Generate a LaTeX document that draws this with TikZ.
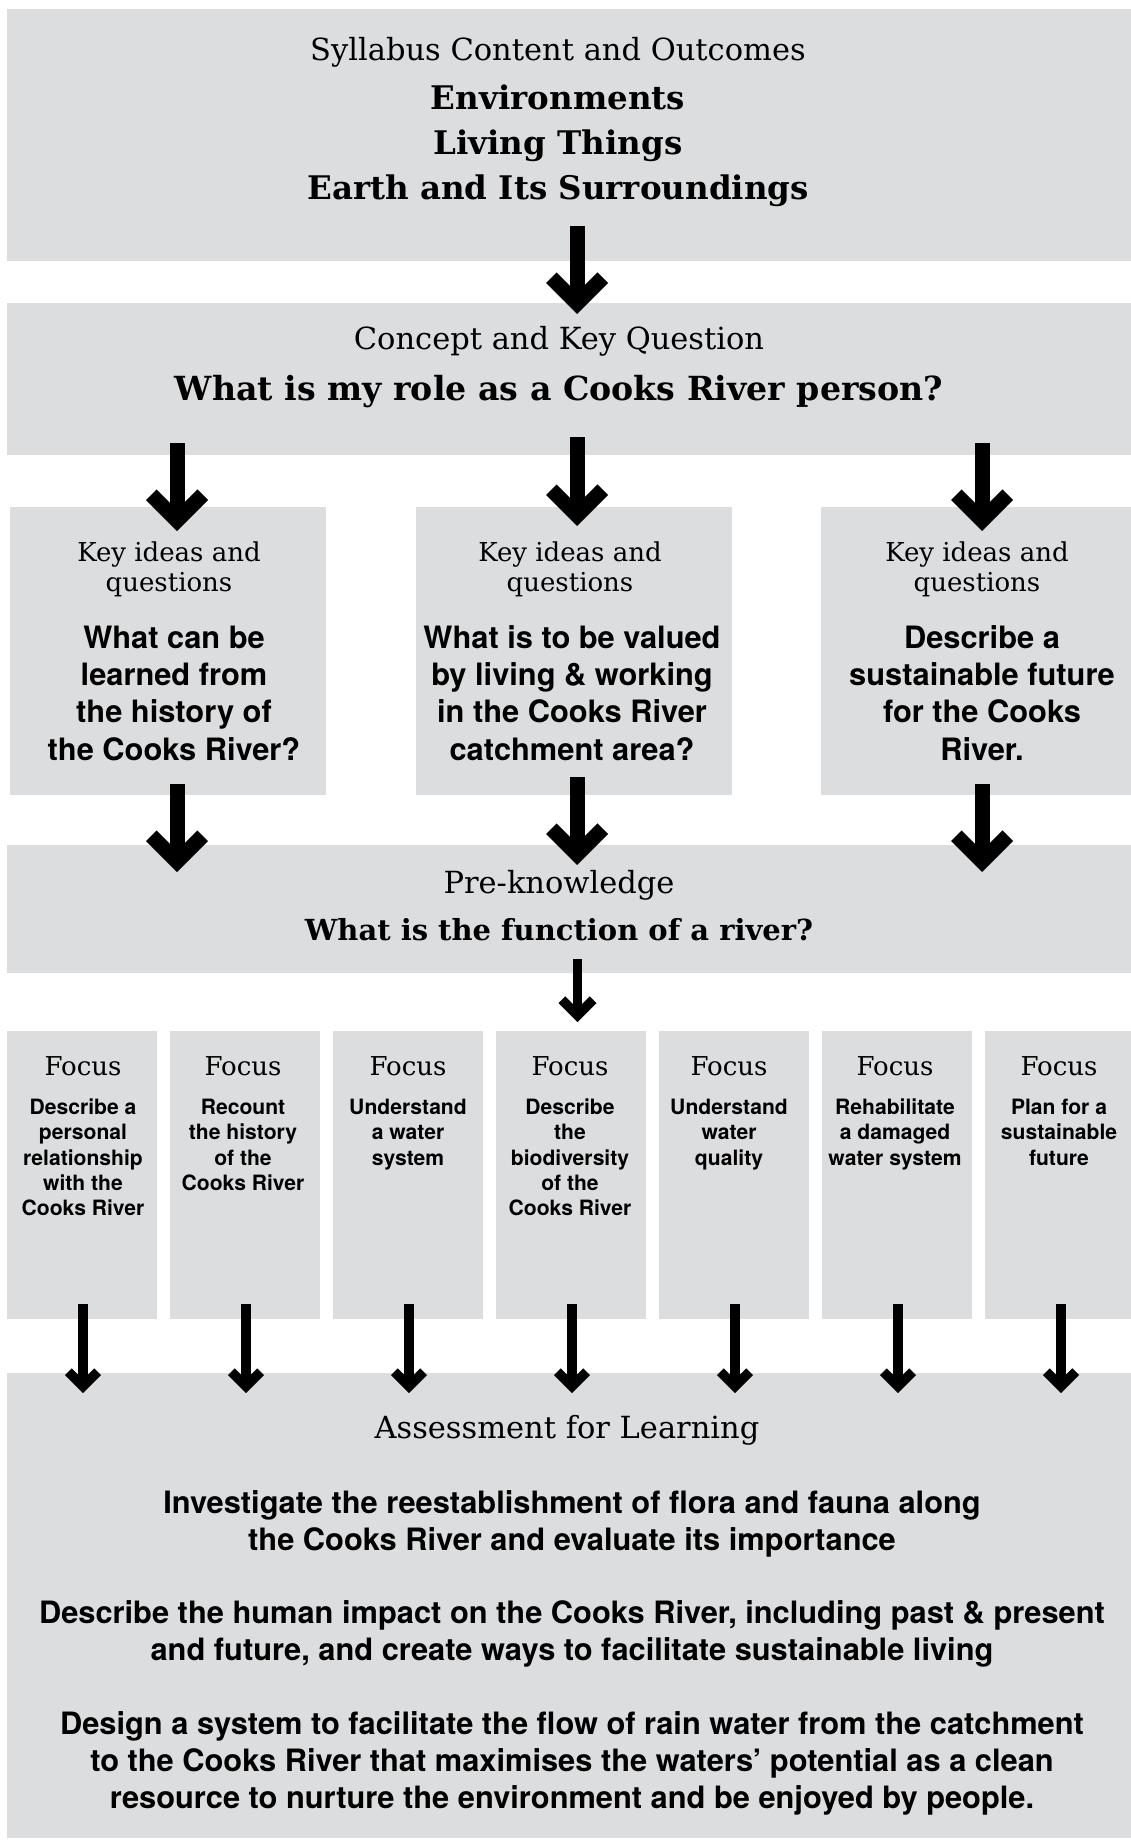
\documentclass[tikz,border=0pt]{standalone}
\usepackage{fontspec}
\setmainfont{DejaVu Serif}
\newfontfamily\hv{TeX Gyre Heros}
\usetikzlibrary{calc}
\definecolor{boxgray}{RGB}{220,221,223}
% chevron arrow head at coordinate #1, half-width #2, stroke thickness #3
\newcommand\chev[3]{\fill (#1) -- ++(-#2,-#2) -- ++({#3*0.7071},{-#3*0.7071}) -- ++({#2-#3*0.7071},{#2-#3*0.7071}) -- ++({#2-#3*0.7071},{#3*0.7071-#2}) -- ++({#3*0.7071},{#3*0.7071}) -- cycle;}
\tikzset{
  box/.style={fill=boxgray, draw=none, inner sep=0pt, outer sep=0pt, anchor=north west},
  serif/.style={font=\fontsize{30.5}{36}\selectfont, anchor=base, inner sep=0pt},
  serifb/.style={font=\fontsize{32.5}{36}\selectfont\bfseries, anchor=base, inner sep=0pt},
  serifs/.style={font=\fontsize{26}{30}\selectfont, anchor=base, inner sep=0pt},
  sansb/.style={font=\hv\bfseries\fontsize{30.8}{37}\selectfont, anchor=base, inner sep=0pt},
  sanss/.style={font=\hv\bfseries\fontsize{21.1}{25}\selectfont, anchor=base, inner sep=0pt},
  bigshaft/.style={line width=15pt, shorten >=10pt},
  smallshaft/.style={line width=9.5pt, shorten >=6pt},
}
\begin{document}
\begin{tikzpicture}[x=1pt,y=-1pt]
\useasboundingbox (0,0) rectangle (1131,1843);
\fill[white] (0,0) rectangle (1131,1843);
% boxes
\node[box, minimum width=1124pt, minimum height=252pt] (top) at (7,9) {};
\node[box, minimum width=1124pt, minimum height=152pt] (concept) at (7,303) {};
\node[box, minimum width=316pt, minimum height=288pt] (k1) at (10,507) {};
\node[box, minimum width=316pt, minimum height=288pt] (k2) at (416,507) {};
\node[box, minimum width=310pt, minimum height=288pt] (k3) at (821,507) {};
\node[box, minimum width=1124pt, minimum height=128pt] (pre) at (7,845) {};
\foreach \i in {1,...,7}{
  \node[box, minimum width=150pt, minimum height=288pt] (f\i) at ({7+163*(\i-1)},1031) {};
}
\node[box, minimum width=1124pt, minimum height=465pt] (assess) at (7,1373) {};

% top texts
\node[serif] (t1) at (558,61) {Syllabus Content and Outcomes};
\node[serifb] (t2) at (558,110) {Environments};
\node[serifb] (t3) at (558,155) {Living Things};
\node[serifb] (t4) at (558,200) {Earth and Its Surroundings};
\node[serif] (c1) at (559,349) {Concept and Key Question};
\node[serifb, font=\fontsize{33.2}{36}\selectfont\bfseries] (c2) at (559,400) {What is my role as a Cooks River person?};

% key ideas
\node[serifs] (k1a) at (169,561) {Key ideas and};
\node[serifs] (k1b) at (169,591) {questions};
\node[serifs] (k2a) at (570,561) {Key ideas and};
\node[serifs] (k2b) at (570,591) {questions};
\node[serifs] (k3a) at (977,561) {Key ideas and};
\node[serifs] (k3b) at (977,591) {questions};

\node[sansb] (q1a) at (174,648) {What can be};
\node[sansb] (q1b) at (174,685.3) {learned from};
\node[sansb] (q1c) at (174,722.6) {the history of};
\node[sansb] (q1d) at (174,760) {the Cooks River?};
\node[sansb] (q2a) at (572,648) {What is to be valued};
\node[sansb] (q2b) at (572,685.3) {by living \& working};
\node[sansb] (q2c) at (572,722.6) {in the Cooks River};
\node[sansb] (q2d) at (572,760) {catchment area?};
\node[sansb] (q3a) at (982,648) {Describe a};
\node[sansb] (q3b) at (982,685.3) {sustainable future};
\node[sansb] (q3c) at (982,722.6) {for the Cooks};
\node[sansb] (q3d) at (982,760) {River.};

% pre-knowledge
\node[serif] (p1) at (559,893) {Pre-knowledge};
\node[serifb, font=\fontsize{29}{34}\selectfont\bfseries] (p2) at (559,940) {What is the function of a river?};

% focus
\foreach \x [count=\i] in {83,243,408,570,729,895,1059}{
  \node[serifs] (fh\i) at (\x,1075) {Focus};
}
\node[sanss] (f1a) at (83,1114.5) {Describe a};
\node[sanss] (f1b) at (83,1139.8) {personal};
\node[sanss] (f1c) at (83,1165.1) {relationship};
\node[sanss] (f1d) at (83,1190.4) {with the};
\node[sanss] (f1e) at (83,1215.7) {Cooks River};
\node[sanss] (f2a) at (243,1114.5) {Recount};
\node[sanss] (f2b) at (243,1139.8) {the history};
\node[sanss] (f2c) at (243,1165.1) {of the};
\node[sanss] (f2d) at (243,1190.4) {Cooks River};
\node[sanss] (f3a) at (408,1114.5) {Understand};
\node[sanss] (f3b) at (408,1139.8) {a water};
\node[sanss] (f3c) at (408,1165.1) {system};
\node[sanss] (f4a) at (570,1114.5) {Describe};
\node[sanss] (f4b) at (570,1139.8) {the};
\node[sanss] (f4c) at (570,1165.1) {biodiversity};
\node[sanss] (f4d) at (570,1190.4) {of the};
\node[sanss] (f4e) at (570,1215.7) {Cooks River};
\node[sanss] (f5a) at (729,1114.5) {Understand};
\node[sanss] (f5b) at (729,1139.8) {water};
\node[sanss] (f5c) at (729,1165.1) {quality};
\node[sanss] (f6a) at (895,1114.5) {Rehabilitate};
\node[sanss] (f6b) at (895,1139.8) {a damaged};
\node[sanss] (f6c) at (895,1165.1) {water system};
\node[sanss] (f7a) at (1059,1114.5) {Plan for a};
\node[sanss] (f7b) at (1059,1139.8) {sustainable};
\node[sanss] (f7c) at (1059,1165.1) {future};

% assessment
\node[serif] (as0) at (567,1438) {Assessment for Learning};
\node[sansb] (as1) at (572,1513) {Investigate the reestablishment of flora and fauna along};
\node[sansb] (as2) at (572,1550) {the Cooks River and evaluate its importance};
\node[sansb] (as3) at (572,1623) {Describe the human impact on the Cooks River, including past \& present};
\node[sansb] (as4) at (572,1660) {and future, and create ways to facilitate sustainable living};
\node[sansb] (as5) at (572,1734) {Design a system to facilitate the flow of rain water from the catchment};
\node[sansb] (as6) at (572,1771) {to the Cooks River that maximises the waters’ potential as a clean};
\node[sansb] (as7) at (572,1808) {resource to nurture the environment and be enjoyed by people.};

% arrows
\coordinate (a1s) at (577,226);   \coordinate (a1e) at (577,314);
\coordinate (a2s) at (177,443);   \coordinate (a2e) at (177,531);
\coordinate (a3s) at (577,437);   \coordinate (a3e) at (577,526);
\coordinate (a4s) at (982,443);   \coordinate (a4e) at (982,531);
\coordinate (a5s) at (177,784);   \coordinate (a5e) at (177,872);
\coordinate (a6s) at (577,777);   \coordinate (a6e) at (577,865);
\coordinate (a7s) at (982,784);   \coordinate (a7e) at (982,872);
\foreach \n in {a1,a2,a3,a4,a5,a6,a7}{
  \draw[bigshaft] (\n s) -- (\n e);
  \chev{\n e}{31}{15}
}
\coordinate (a8s) at (577.5,959); \coordinate (a8e) at (577.5,1022);
\draw[smallshaft] (a8s) -- (a8e);
\chev{a8e}{19}{9.5}
\foreach \i in {1,...,7}{
  \coordinate (fs\i) at ({83+163*(\i-1)},1304);
  \coordinate (fe\i) at ({83+163*(\i-1)},1393);
  \draw[smallshaft] (fs\i) -- (fe\i);
  \chev{fe\i}{18}{9.5}
}
\end{tikzpicture}
\end{document}
